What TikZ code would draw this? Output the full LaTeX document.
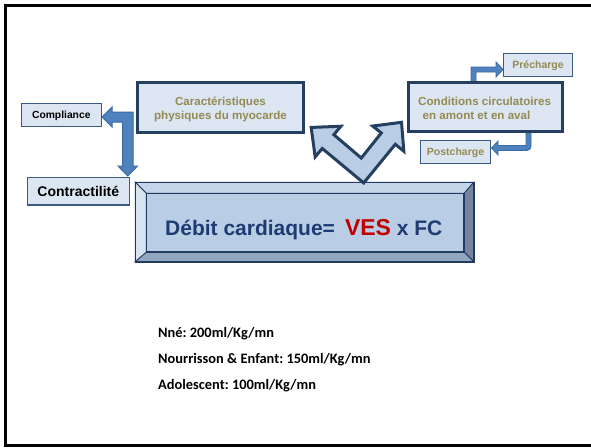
\documentclass[tikz,border=0pt]{standalone}
\usepackage{fontspec}
\setmainfont{Liberation Sans}
\newfontfamily\calib{Carlito}
\usetikzlibrary{calc}
\frenchspacing
\definecolor{lightbox}{HTML}{DCE6F2}
\definecolor{thinb}{HTML}{3A5A85}
\definecolor{thickb}{HTML}{243F60}
\definecolor{olivetxt}{HTML}{948A54}
\definecolor{arrowblue}{HTML}{4F81BD}
\definecolor{arrowedge}{HTML}{3A6BA5}
\definecolor{navytxt}{HTML}{1F3B73}
\definecolor{vesred}{HTML}{C00000}
\definecolor{face}{HTML}{B9CDE5}
\definecolor{bevtop}{HTML}{C6D6EA}
\definecolor{bevleft}{HTML}{D8E3F0}
\definecolor{bevright}{HTML}{74869E}
\definecolor{bevbottom}{HTML}{93A6BF}
\definecolor{bevedge}{HTML}{203A60}
\tikzset{
  smallbox/.style={draw=thinb, line width=1.2pt, fill=lightbox, inner sep=0pt},
  bigbox/.style={draw=thickb, line width=3pt, fill=lightbox, inner sep=0pt},
  olivelabel/.style={text=olivetxt, inner sep=0pt, font=\bfseries\fontsize{11.6}{14.3}\selectfont},
  blockarrow/.style={fill=arrowblue, draw=arrowedge, line width=1pt, line join=miter},
  bevel/.style={draw=bevedge, line width=0.8pt, line join=miter},
  notes/.style={anchor=base west, inner sep=0pt, font=\calib\bfseries\fontsize{14.4}{17}\selectfont}
}
\begin{document}
\begin{tikzpicture}[x=1pt,y=-1pt]
\useasboundingbox (0,0) rectangle (591,447);
\fill[white] (0,0) rectangle (591,447);
% frame
\draw[line width=3pt] (591,5) -- (5,5) -- (5,445.5) -- (591,445.5);

% block arrows (drawn before the boxes)
\draw[blockarrow] (102,117) -- (112,107) -- (112,112) -- (133,112) -- (133,166) -- (137.5,166) -- (127.75,176) -- (118,166) -- (122.5,166) -- (122.5,122) -- (112,122) -- (112,127) -- cycle;
\draw[blockarrow, line width=0.8pt] (471,83) -- (471,67) -- (496,67) -- (496,62) -- (503,69.5) -- (496,77) -- (496,72) -- (476,72) -- (476,83) -- cycle;
\draw[blockarrow, line width=0.8pt] (526,131) -- (526,145.5) -- (498,145.5) -- (498,141) -- (491.5,148) -- (498,155) -- (498,150.5) -- (527,150.5) arc (90:0:4) -- (531,131) -- cycle;

% boxes
\node[smallbox, minimum width=80, minimum height=23, text height=7.2pt, text depth=0pt,
      font=\bfseries\fontsize{10.3}{12}\selectfont] (comp) at (61.3,114.7) {Compliance};
\node[smallbox, minimum width=102, minimum height=27.5, text height=10pt, text depth=0pt,
      font=\bfseries\fontsize{14}{17}\selectfont] (contr) at (78.3,191.3) {Contractilité};
\node[bigbox, minimum width=166, minimum height=50] (carac) at (220.5,107.3) {};
\node[olivelabel, anchor=base] (caractext) at (220.5,105)
  {\begin{tabular}[t]{@{}c@{}}Caractéristiques\\physiques du myocarde\end{tabular}};
\node[bigbox, minimum width=154, minimum height=49] (cond) at (485.5,107) {};
\node[olivelabel, anchor=base west] (condtext) at (418,105)
  {\begin{tabular}[t]{@{}l@{}}Conditions circulatoires\\\hspace{4.5pt}en amont et en aval\end{tabular}};
\node[smallbox, minimum width=69, minimum height=23, text height=7.5pt, text depth=0pt,
      text=olivetxt, font=\bfseries\fontsize{10.5}{12}\selectfont] (prech) at (538,65) {Précharge};
\node[smallbox, minimum width=70, minimum height=23, text height=7.5pt, text depth=0pt,
      text=olivetxt, font=\bfseries\fontsize{10.5}{12}\selectfont] (postc) at (455.5,152) {Postcharge};

% main beveled box
\node[minimum width=338, minimum height=79, inner sep=0pt] (dc) at (304.5,222) {};
\coordinate (oTL) at (dc.north west);
\coordinate (oTR) at (dc.north east);
\coordinate (oBR) at (dc.south east);
\coordinate (oBL) at (dc.south west);
\coordinate (iTL) at ($(dc.north west)+(11,11)$);
\coordinate (iTR) at ($(dc.north east)+(-9.5,11)$);
\coordinate (iBR) at ($(dc.south east)+(-9.5,-9.5)$);
\coordinate (iBL) at ($(dc.south west)+(11,-9.5)$);
\filldraw[bevel, fill=bevtop] (oTL) -- (oTR) -- (iTR) -- (iTL) -- cycle;
\filldraw[bevel, fill=bevleft] (oTL) -- (iTL) -- (iBL) -- (oBL) -- cycle;
\filldraw[bevel, fill=bevright] (oTR) -- (oBR) -- (iBR) -- (iTR) -- cycle;
\filldraw[bevel, fill=bevbottom] (oBL) -- (iBL) -- (iBR) -- (oBR) -- cycle;
\filldraw[draw=bevedge, line width=1.6pt, fill=face] (iTL) rectangle (iBR);
\draw[draw=bevedge, line width=1.6pt] (oTL) rectangle (oBR);
\node[anchor=base west, inner sep=0pt, text=navytxt, font=\bfseries\fontsize{21}{25}\selectfont] (dctext) at (165,235.7)
  {Débit cardiaque=\hspace{10pt}{\color{vesred}\fontsize{23}{27}\selectfont VES} x FC};

% V-shaped double arrow
\coordinate (A) at (362.5,170.5);
\filldraw[fill=face, draw=thickb, line width=3pt, line join=miter]
  ($(A)+(84.5:12.5)$)
  -- ($(A)+(-51:41)+(39:9)$)
  -- ($(A)+(-51:41)+(39:20)$)
  -- ($(A)+(-51:62)$)
  -- ($(A)+(-51:41)+(-141:20)$)
  -- ($(A)+(-51:41)+(-141:9)$)
  -- ($(A)+(-95.5:12.5)$)
  -- ($(A)+(-140:45)+(-50:9)$)
  -- ($(A)+(-140:45)+(-50:20)$)
  -- ($(A)+(-140:67)$)
  -- ($(A)+(-140:45)+(130:20)$)
  -- ($(A)+(-140:45)+(130:9)$)
  -- cycle;

% notes
\node[notes] (t1) at (158,337.7) {Nné: 200ml/Kg/mn};
\node[notes] (t2) at (158,363.3) {Nourrisson \& Enfant: 150ml/Kg/mn};
\node[notes] (t3) at (158,389) {Adolescent: 100ml/Kg/mn};
\end{tikzpicture}
\end{document}
